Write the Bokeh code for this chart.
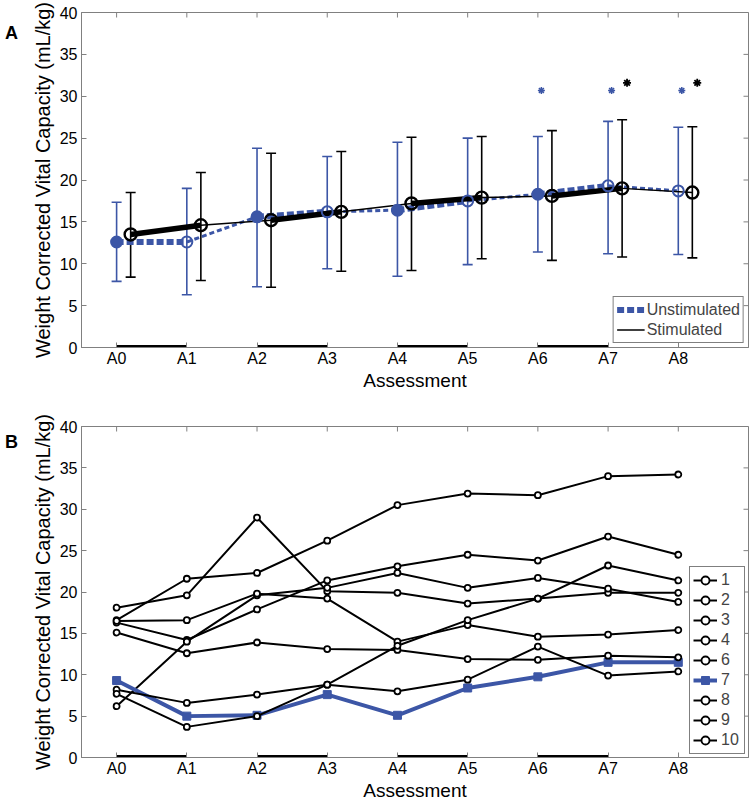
import math
from bokeh.plotting import figure
from bokeh.layouts import column, row
from bokeh.models import (ColumnDataSource, Whisker, TeeHead, FixedTicker,
                          Range1d, Legend, LegendItem, Div)
from bokeh.embed import file_html
from bokeh.resources import INLINE

# ---------------- data ----------------
assessments = ["A0", "A1", "A2", "A3", "A4", "A5", "A6", "A7", "A8"]

# Panel A: group means with error bars
unstim_mean = [12.6, 12.6, 15.6, 16.2, 16.4, 17.5, 18.3, 19.3, 18.7]
unstim_upper = [17.35, 19.0, 23.8, 22.8, 24.5, 25.0, 25.2, 27.0, 26.3]
unstim_lower = [7.9, 6.3, 7.25, 9.4, 8.5, 9.9, 11.4, 11.2, 11.1]
stim_mean = [13.5, 14.6, 15.2, 16.2, 17.2, 17.9, 18.1, 19.0, 18.5]
stim_upper = [18.5, 20.9, 23.2, 23.4, 25.1, 25.2, 25.9, 27.2, 26.35]
stim_lower = [8.4, 8.0, 7.2, 9.1, 9.2, 10.6, 10.4, 10.8, 10.7]

# significance markers
sig_unstim = ["A6", "A7", "A8"]
sig_unstim_y = [30.7, 30.7, 30.7]
sig_stim = ["A7", "A8"]
sig_stim_y = [31.6, 31.6]

# stimulation periods (thick bars on x axis)
stim_periods = [("A0", "A1"), ("A2", "A3"), ("A4", "A5"), ("A6", "A7")]

# Panel B: individual participants
participant_labels = ["1", "2", "3", "4", "6", "7", "8", "9", "10"]
p1 = [16.6, 21.6, 22.3, 26.2, 30.5, 31.9, 31.7, 34.0, 34.2]
p2 = [16.3, 14.2, 17.9, 21.4, 23.1, 24.5, 23.8, 26.7, 24.5]
p3 = [18.1, 19.6, 29.0, 20.1, 19.9, 18.6, 19.2, 19.9, 19.9]
p4 = [6.2, 14.0, 19.6, 20.5, 22.3, 20.5, 21.7, 20.4, 18.8]
p6 = [16.5, 16.6, 19.8, 19.2, 14.0, 16.0, 14.6, 14.85, 15.4]
p7 = [9.3, 5.0, 5.1, 7.6, 5.1, 8.4, 9.75, 11.5, 11.5]
p8 = [15.1, 12.6, 13.9, 13.1, 13.0, 11.9, 11.8, 12.3, 12.1]
p9 = [8.2, 6.6, 7.6, 8.8, 8.0, 9.4, 13.4, 9.9, 10.4]
p10 = [7.7, 3.7, 5.0, 8.8, 13.5, 16.6, 19.2, 23.2, 21.4]
participants = [p1, p2, p3, p4, p6, p7, p8, p9, p10]
highlight = "7"

y_ticks = [0, 5, 10, 15, 20, 25, 30, 35, 40]
x_title = "Assessment"
y_title = "Weight Corrected Vital Capacity (mL/kg)"
panel_titles = ["A", "B"]

# ---------------- style ----------------
BLUE = "#3C56A6"
GRAY = "#808080"
FONT = "Liberation Sans"
STIM_OFFSET = 0.2
SIG_U_OFFSET = 0.05
SIG_S_OFFSET = 0.27
X_LO, X_HI = -0.5, 9.0
Y_LO, Y_HI = 0, 40
LETTER_W = 20          # width of the column holding the panel letter
FRAME_L = 81           # frame left edge on the page
FRAME_W = 667

pos = {a: i for i, a in enumerate(assessments)}
idx = list(range(len(assessments)))
stim_pairs = {(pos[a], pos[b]) for a, b in stim_periods}
stim_starts = {pos[a] for a, b in stim_periods}


def make_fig(frame_h, btop, bbot):
    p = figure(frame_width=FRAME_W, frame_height=frame_h,
               x_range=Range1d(X_LO, X_HI), y_range=Range1d(Y_LO, Y_HI),
               output_backend="svg", toolbar_location=None, tools="",
               min_border_left=FRAME_L - LETTER_W, min_border_right=2,
               min_border_top=btop, min_border_bottom=bbot)
    p.xgrid.visible = False
    p.ygrid.visible = False
    p.outline_line_color = GRAY
    p.background_fill_color = "white"
    p.border_fill_color = "white"

    xa = p.xaxis[0]
    xa.ticker = FixedTicker(ticks=idx)
    xa.major_label_overrides = {i: a for i, a in enumerate(assessments)}
    xa.axis_label = x_title
    ya = p.yaxis[0]
    ya.ticker = FixedTicker(ticks=y_ticks)
    ya.axis_label = y_title
    for ax, size in ((xa, "19px"), (ya, "20px")):
        ax.major_label_text_font = FONT
        ax.major_label_text_font_size = "16px"
        ax.major_label_text_color = "black"
        ax.axis_label_text_font = FONT
        ax.axis_label_text_font_size = size
        ax.axis_label_text_font_style = "normal"
        ax.axis_label_text_color = "black"
        ax.axis_label_standoff = 3
        ax.major_label_standoff = 4
        ax.major_tick_in = 5
        ax.major_tick_out = 0
        ax.minor_tick_line_color = None
        ax.axis_line_color = GRAY
        ax.major_tick_line_color = GRAY
    xa.axis_label_standoff = 0
    xa.major_label_standoff = 2

    # mirrored inward ticks on top and right edges (half clipped by the frame)
    p.scatter(x=[X_HI] * len(y_ticks), y=y_ticks, marker="dash", size=10,
              line_color=GRAY, line_width=1)
    p.scatter(x=idx, y=[Y_HI] * len(idx), marker="dash", angle=math.pi / 2, size=10,
              line_color=GRAY, line_width=1)

    # stimulation period bars
    p.segment(x0=[pos[a] for a, b in stim_periods], y0=[Y_LO] * len(stim_periods),
              x1=[pos[b] for a, b in stim_periods], y1=[Y_LO] * len(stim_periods),
              line_color="black", line_width=5)
    return p


def seg_cols(xs, ys, thick):
    d = dict(x0=[], y0=[], x1=[], y1=[])
    for i in range(len(xs) - 1):
        if ((i, i + 1) in stim_pairs) == thick:
            d["x0"].append(xs[i]); d["y0"].append(ys[i])
            d["x1"].append(xs[i + 1]); d["y1"].append(ys[i + 1])
    return d


def letter(text, top):
    return Div(text=text, width=LETTER_W - 5, height=24, margin=(top, 0, 0, 5),
               styles={"font-family": FONT, "font-size": "18px", "font-weight": "bold",
                       "line-height": "18px", "color": "black"})


# ---------------- Panel A ----------------
pa = make_fig(335, 12, 47)
xs_u = idx
xs_s = [i + STIM_OFFSET for i in idx]

r_u_thick = pa.segment(source=ColumnDataSource(seg_cols(xs_u, unstim_mean, True)),
                       x0="x0", y0="y0", x1="x1", y1="y1",
                       line_color=BLUE, line_width=6, line_dash="7 3")
pa.segment(source=ColumnDataSource(seg_cols(xs_u, unstim_mean, False)),
           x0="x0", y0="y0", x1="x1", y1="y1",
           line_color=BLUE, line_width=3, line_dash="5 3")
pa.segment(source=ColumnDataSource(seg_cols(xs_s, stim_mean, True)),
           x0="x0", y0="y0", x1="x1", y1="y1",
           line_color="black", line_width=5.5)
r_s_thin = pa.segment(source=ColumnDataSource(seg_cols(xs_s, stim_mean, False)),
                      x0="x0", y0="y0", x1="x1", y1="y1",
                      line_color="black", line_width=1.5)

u_fill = [BLUE if i in stim_starts else None for i in idx]
src_u = ColumnDataSource(dict(x=xs_u, y=unstim_mean, up=unstim_upper, lo=unstim_lower,
                              fill=u_fill))
src_s = ColumnDataSource(dict(x=xs_s, y=stim_mean, up=stim_upper, lo=stim_lower))
for src, col in ((src_u, BLUE), (src_s, "black")):
    pa.add_layout(Whisker(source=src, base="x", upper="up", lower="lo", dimension="height",
                          line_color=col, line_width=1.6,
                          upper_head=TeeHead(size=10, line_color=col, line_width=1.6),
                          lower_head=TeeHead(size=10, line_color=col, line_width=1.6)))

pa.scatter("x", "y", source=src_u, marker="circle", size=11, line_color=BLUE,
           line_width=2, fill_color="fill")
pa.scatter("x", "y", source=src_s, marker="circle", size=12, line_color="black",
           line_width=2.4, fill_color=None)

pa.scatter([pos[a] + SIG_U_OFFSET for a in sig_unstim], sig_unstim_y, marker="asterisk",
           size=7, line_color=BLUE, line_width=1.5)
pa.scatter([pos[a] + SIG_S_OFFSET for a in sig_stim], sig_stim_y, marker="asterisk",
           size=8, line_color="black", line_width=1.8)

leg_a = Legend(items=[LegendItem(label="Unstimulated", renderers=[r_u_thick]),
                      LegendItem(label="Stimulated", renderers=[r_s_thin])],
               location="bottom_right", margin=4, padding=3, spacing=1,
               label_text_font=FONT, label_text_font_size="16px",
               label_height=19, glyph_height=19, glyph_width=28, label_standoff=2,
               border_line_color="black", border_line_width=1,
               background_fill_alpha=1.0)
pa.add_layout(leg_a, "center")

# ---------------- Panel B ----------------
pb = make_fig(331, 32, 47)
items = []
for lab, ys in zip(participant_labels, participants):
    if lab == highlight:
        rl = pb.line(idx, ys, line_color=BLUE, line_width=4)
        rm = pb.scatter(idx, ys, marker="square", size=8, fill_color=BLUE, line_color=BLUE)
    else:
        rl = pb.line(idx, ys, line_color="black", line_width=2)
        rm = pb.scatter(idx, ys, marker="circle", size=6, fill_color="white",
                        line_color="black", line_width=1.8)
    items.append(LegendItem(label=lab, renderers=[rl, rm]))

leg_b = Legend(items=items, location="bottom_right", margin=3, padding=3, spacing=0,
               label_text_font=FONT, label_text_font_size="16px",
               label_height=20, glyph_height=20, glyph_width=24, label_standoff=4,
               border_line_color="black", border_line_width=1,
               background_fill_alpha=1.0)
pb.add_layout(leg_b, "center")

layout = column(row(letter(panel_titles[0], 24), pa, spacing=0),
                row(letter(panel_titles[1], 39), pb, spacing=0),
                spacing=0)
open("out.html", "w").write(file_html(layout, INLINE))
